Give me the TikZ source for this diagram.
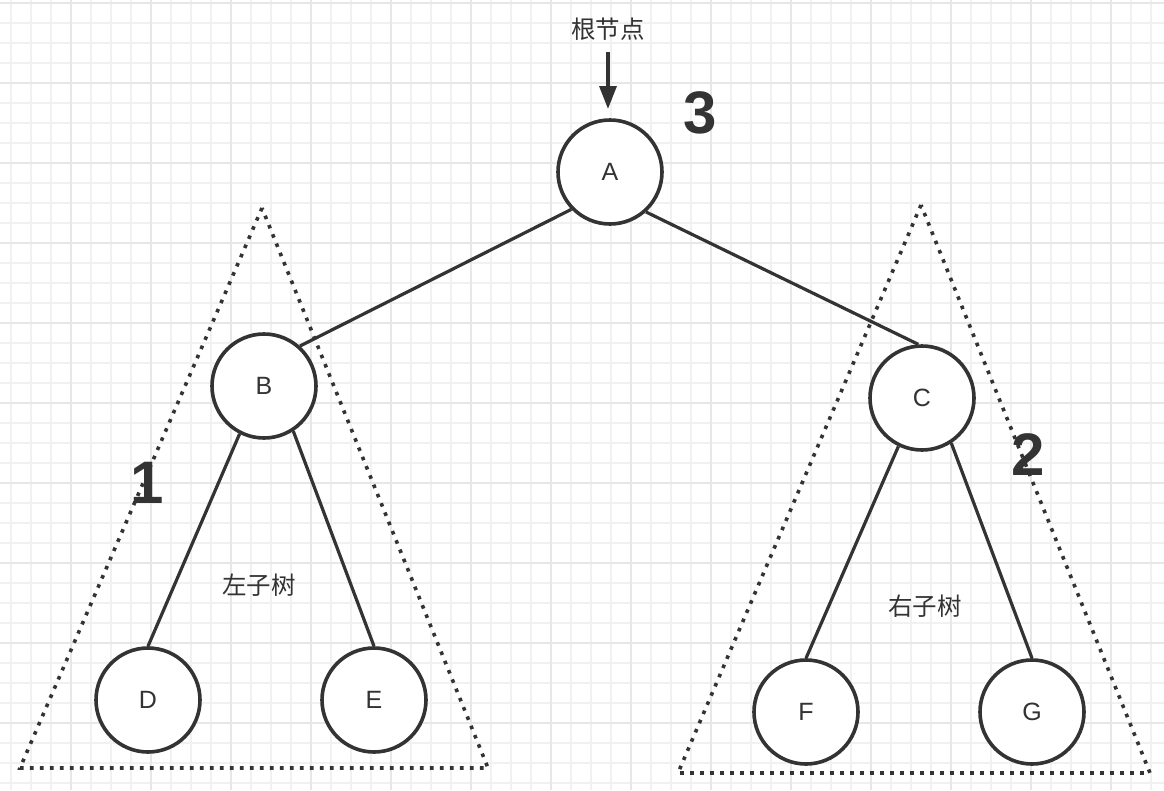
\documentclass[tikz,border=0pt]{standalone}
\usepackage{fontspec}
\setmainfont{Liberation Sans}
\newfontfamily\cjk{Noto Sans CJK SC}
\usetikzlibrary{arrows.meta}
\definecolor{ink}{RGB}{51,51,51}
\definecolor{gminor}{RGB}{241,241,241}
\definecolor{gmajor}{RGB}{231,231,231}
\begin{document}
\begin{tikzpicture}[x=1pt,y=-1pt,
  treenode/.style={circle,draw=ink,line width=3.6pt,minimum size=104pt,inner sep=0pt,fill=white,
    font=\fontsize{25}{27}\selectfont,text=ink},
  edge/.style={draw=ink,line width=3.2pt},
  subtree/.style={draw=ink,line width=3.6pt,dash pattern=on 3.6pt off 6.4pt},
  cnlabel/.style={font=\cjk\fontsize{24.5}{27}\selectfont,text=ink,inner sep=0pt},
  bignum/.style={font=\bfseries\fontsize{60}{66}\selectfont,text=ink,inner sep=0pt}]
\useasboundingbox (0,0) rectangle (1164,790);
\fill[white] (0,0) rectangle (1164,790);
% grid
\foreach \x in {11,31,...,1164} \draw[gminor,line width=1.2pt] (\x,0) -- (\x,790);
\foreach \y in {3,23,...,790} \draw[gminor,line width=1.2pt] (0,\y) -- (1164,\y);
\foreach \x in {71,151,...,1164} \draw[gmajor,line width=1.5pt] (\x,0) -- (\x,790);
\foreach \y in {3,83,...,790} \draw[gmajor,line width=1.5pt] (0,\y) -- (1164,\y);
% subtree triangles
\draw[subtree] (262,208) -- (20,768) -- (488,768) -- cycle;
\draw[subtree] (921,205) -- (678,773) -- (1150,773) -- cycle;
% nodes
\node[treenode] (A) at (610,172) {A};
\node[treenode] (B) at (264,386) {B};
\node[treenode] (C) at (922,398) {C};
\node[treenode] (D) at (148,700) {D};
\node[treenode] (E) at (374,700) {E};
\node[treenode] (F) at (806,712) {F};
\node[treenode] (G) at (1032,712) {G};
% edges
\draw[edge] (A.224) -- (B.48);
\draw[edge] (A.312) -- (C.94);
\draw[edge] (B.243) -- (D.90);
\draw[edge] (B.303) -- (E.90);
\draw[edge] (C.244) -- (F.90);
\draw[edge] (C.303) -- (G.90);
% labels
\node[cnlabel] (root) at (608,29) {根节点};
\coordinate (arrs) at (608,52);
\coordinate (arre) at (608,109);
\draw[draw=ink,line width=3.4pt,-{Triangle[length=23pt,width=17pt]}] (arrs) -- (arre);
\node[cnlabel] (lt) at (259,585) {左子树};
\node[cnlabel] (rt) at (925,606) {右子树};
\node[bignum] (n3) at (700,113) {3};
\node[bignum] (n1) at (147,483) {1};
\node[bignum] (n2) at (1028,455) {2};
\end{tikzpicture}
\end{document}
